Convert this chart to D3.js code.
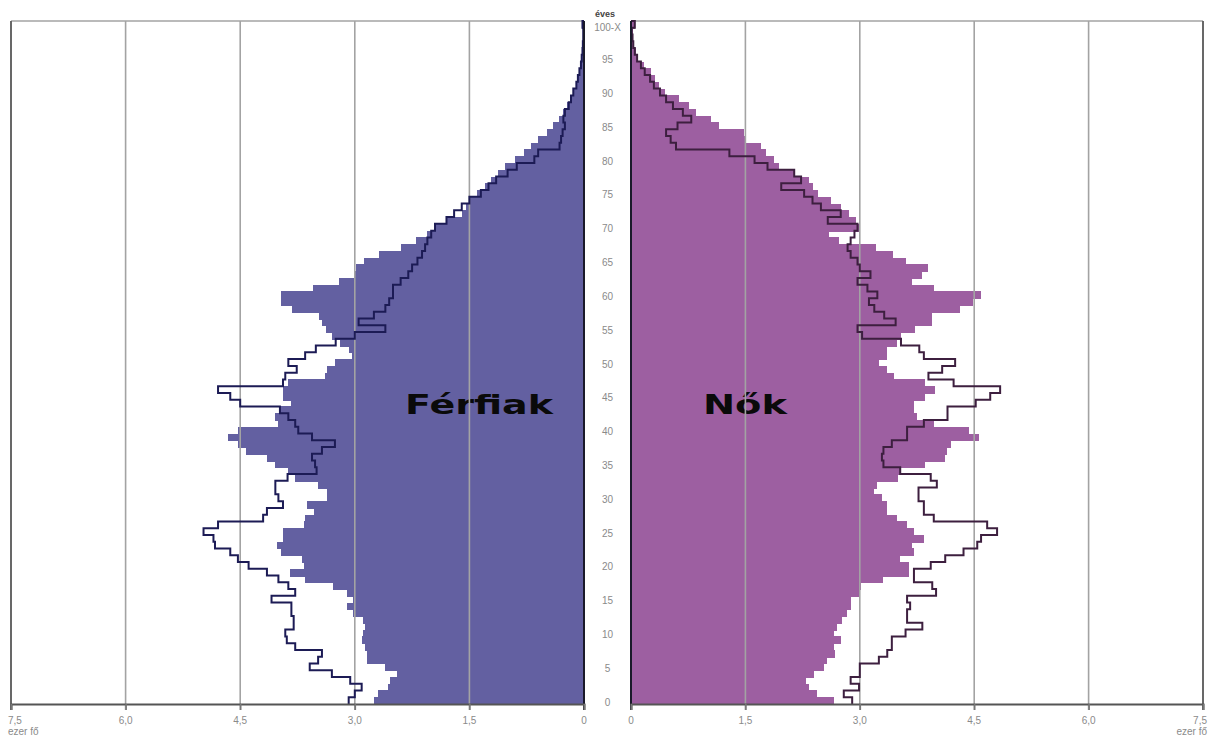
<!DOCTYPE html>
<html>
<head>
<meta charset="utf-8">
<script src="https://cdn.jsdelivr.net/npm/d3@7"></script>
<style>
  html, body { margin: 0; padding: 0; background: #ffffff; }
  svg { display: block; }
</style>
</head>
<body>
<svg id="chart" width="1208" height="738"></svg>
<script>
// ---- data (thousand persons, ages 0..100) ----
const ages = d3.range(0, 101);

const maleBars = [
  2.75,2.69,2.56,2.54,2.45,2.60,2.84,2.84,2.86,2.91,
  2.89,2.86,2.89,3.02,3.10,3.02,3.10,3.28,3.65,3.85,
  3.67,3.69,3.96,4.02,3.94,3.94,3.67,3.65,3.54,3.63,
  3.37,3.37,3.48,3.78,3.87,4.04,4.15,4.42,4.53,4.66,
  4.53,4.00,4.04,3.98,3.83,3.94,3.94,3.87,3.39,3.37,
  3.26,3.04,3.08,3.20,3.30,3.38,3.43,3.47,3.82,3.97,
  3.97,3.55,3.21,3.00,2.99,2.88,2.68,2.40,2.20,2.05,
  1.94,1.79,1.60,1.55,1.50,1.40,1.30,1.22,1.13,1.04,
  0.90,0.78,0.70,0.60,0.48,0.40,0.33,0.27,0.22,0.17,
  0.14,0.11,0.08,0.06,0.05,0.04,0.03,0.02,0.015,0.01,0.03
];
const maleOutline = [
  3.08,3.00,2.91,3.06,3.30,3.59,3.48,3.43,3.78,3.89,
  3.91,3.80,3.80,3.83,3.83,4.09,3.78,3.87,4.00,4.15,
  4.39,4.53,4.63,4.83,4.85,4.98,4.79,4.20,4.15,3.94,
  4.00,4.04,4.04,3.88,3.50,3.52,3.56,3.43,3.26,3.56,
  3.74,3.78,3.87,3.98,4.50,4.63,4.79,3.94,3.91,3.76,
  3.87,3.65,3.51,3.25,3.00,2.60,2.95,2.75,2.60,2.55,
  2.50,2.50,2.40,2.30,2.25,2.18,2.12,2.08,2.05,2.00,
  1.95,1.80,1.70,1.60,1.50,1.35,1.25,1.15,1.00,0.88,
  0.65,0.60,0.32,0.30,0.28,0.25,0.27,0.25,0.20,0.17,
  0.14,0.10,0.08,0.06,0.04,0.03,0.02,0.015,0.01,0.01,0.02
];
const femaleBars = [
  2.66,2.44,2.33,2.29,2.40,2.53,2.57,2.68,2.66,2.75,
  2.66,2.70,2.77,2.83,2.88,2.88,2.99,3.01,3.31,3.64,
  3.64,3.53,3.71,3.69,3.84,3.71,3.62,3.49,3.36,3.36,
  3.29,3.18,3.23,3.50,3.53,3.86,4.12,4.14,4.19,4.56,
  4.43,3.97,3.75,3.71,3.71,3.86,3.99,3.86,3.45,3.36,
  3.25,3.36,3.36,3.49,3.54,3.73,3.95,3.95,4.32,4.48,
  4.59,3.97,3.69,3.82,3.89,3.60,3.43,3.21,2.73,2.60,
  2.99,2.95,2.86,2.75,2.62,2.45,2.38,2.34,2.14,1.94,
  1.88,1.77,1.70,1.50,1.48,1.16,1.05,0.85,0.76,0.63,
  0.44,0.37,0.31,0.26,0.17,0.09,0.06,0.04,0.03,0.02,0.05
];
const femaleOutline = [
  2.90,2.79,2.99,2.88,3.00,3.00,3.25,3.36,3.42,3.42,
  3.60,3.82,3.62,3.62,3.66,3.62,4.00,3.95,3.71,3.71,
  3.93,4.12,4.36,4.54,4.59,4.80,4.67,3.97,3.84,3.84,
  3.77,3.77,4.01,3.93,3.53,3.31,3.29,3.31,3.42,3.62,
  3.62,3.84,4.15,4.15,4.52,4.71,4.84,4.23,3.90,4.08,
  4.25,3.84,3.78,3.54,3.03,2.97,3.47,3.32,3.19,3.12,
  3.23,3.10,2.97,3.14,3.00,2.97,2.88,2.84,2.88,2.93,
  2.97,2.58,2.75,2.49,2.38,2.27,1.97,2.23,2.14,1.79,
  1.62,1.29,0.59,0.52,0.46,0.61,0.79,0.68,0.55,0.46,
  0.38,0.30,0.25,0.18,0.13,0.08,0.05,0.03,0.02,0.01,0.05
];

const xTicks = [0, 1.5, 3.0, 4.5, 6.0, 7.5];
const xTickLabels = ["0", "1,5", "3,0", "4,5", "6,0", "7,5"];
const ageTicks = [0,5,10,15,20,25,30,35,40,45,50,55,60,65,70,75,80,85,90,95,100];
const ageTickLabels = ["0","5","10","15","20","25","30","35","40","45","50","55","60","65","70","75","80","85","90","95","100-X"];
const unitLabel = "ezer fő";
const ageUnit = "éves";
const maleTitle = "Férfiak";
const femaleTitle = "Nők";

// ---- layout ----
const plotTop = 21, plotBottom = 704;
const svg = d3.select("#chart");

const y = d3.scaleBand().domain(ages.slice().reverse()).range([plotTop, plotBottom]).padding(0);
const xM = d3.scaleLinear().domain([0, 7.5]).range([584, 11]);
const xF = d3.scaleLinear().domain([0, 7.5]).range([631, 1203]);

const maleColor = "#6360a1";
const femaleColor = "#9d5fa1";
const maleLine = "#1c1b55";
const femaleLine = "#3d1f3f";
const gridColor = "#a3a3a3";

function drawSide(xs, isMale, bars, outline, fill, lineColor, title, titleX, titleLen) {
  const g = svg.append("g");
  g.selectAll("rect.bar").data(ages).join("rect")
    .attr("class", "bar")
    .attr("x", a => Math.min(xs(0), xs(bars[a])))
    .attr("width", a => Math.abs(xs(bars[a]) - xs(0)))
    .attr("y", a => y(a))
    .attr("height", a => a === 0 ? y.bandwidth() : y.bandwidth() + 1)
    .attr("shape-rendering", "crispEdges")
    .attr("fill", fill);
  g.append("text")
    .attr("x", titleX).attr("y", 414)
    .attr("textLength", titleLen).attr("lengthAdjust", "spacingAndGlyphs")
    .attr("font-family", "'DejaVu Sans', Verdana, sans-serif")
    .attr("font-weight", "bold").attr("font-size", 26)
    .attr("fill", "#0a0a0a").text(title);
  g.selectAll("line.grid").data(xTicks.filter(t => t > 0)).join("line")
    .attr("class", "grid")
    .attr("x1", d => xs(d)).attr("x2", d => xs(d))
    .attr("y1", plotTop).attr("y2", plotBottom + 6)
    .attr("stroke", gridColor).attr("stroke-width", 1.6);
  g.append("line")
    .attr("x1", xs(0)).attr("x2", xs(7.5)).attr("y1", plotTop).attr("y2", plotTop)
    .attr("stroke", gridColor).attr("stroke-width", 1.6);
  g.append("line")
    .attr("x1", xs(7.5)).attr("x2", xs(7.5)).attr("y1", plotTop).attr("y2", plotBottom + 6)
    .attr("stroke", "#555").attr("stroke-width", 1.6);
  const pts = [];
  ages.forEach(a => {
    pts.push([xs(outline[a]), y(a) + y.bandwidth()]);
    pts.push([xs(outline[a]), y(a)]);
  });
  pts.push([xs(0), y(100)]);
  g.append("path")
    .attr("d", d3.line()(pts))
    .attr("fill", "none").attr("stroke", lineColor)
    .attr("stroke-width", 2).attr("stroke-linejoin", "miter");
  g.append("line")
    .attr("x1", xs(0)).attr("x2", xs(0)).attr("y1", plotTop).attr("y2", plotBottom + 6)
    .attr("stroke", "#1a1a2a").attr("stroke-width", 2);
  const axis = d3.axisBottom(xs).tickValues(xTicks).tickSize(6).tickFormat("");
  const ag = g.append("g").attr("transform", `translate(0,${plotBottom})`).call(axis);
  ag.select(".domain").attr("stroke", "#555").attr("stroke-width", 2);
  ag.selectAll(".tick line").attr("stroke", "#777").attr("stroke-width", 1.6);
  g.selectAll("text.tl").data(xTicks).join("text")
    .attr("class", "tl")
    .attr("x", d => (d === 7.5 ? (isMale ? 8 : 1207) : xs(d)))
    .attr("y", 724)
    .attr("text-anchor", d => d === 7.5 ? (isMale ? "start" : "end") : "middle")
    .attr("font-family", "'Liberation Sans', Arial, sans-serif")
    .attr("font-size", 10).attr("fill", "#8a8a8a")
    .text((d, i) => xTickLabels[i]);
  g.append("text")
    .attr("x", isMale ? 8 : 1207).attr("y", 735)
    .attr("text-anchor", isMale ? "start" : "end")
    .attr("font-family", "'Liberation Sans', Arial, sans-serif")
    .attr("font-size", 10).attr("fill", "#8a8a8a")
    .text(unitLabel);
}

drawSide(xM, true, maleBars, maleOutline, maleColor, maleLine, maleTitle, 405, 148);
drawSide(xF, false, femaleBars, femaleOutline, femaleColor, femaleLine, femaleTitle, 703, 84);

svg.selectAll("text.age").data(ageTicks).join("text")
  .attr("class", "age")
  .attr("x", 607.5)
  .attr("y", a => y(a) + y.bandwidth() / 2 + (a === 100 ? 7 : 5))
  .attr("text-anchor", "middle")
  .attr("font-family", "'Liberation Sans', Arial, sans-serif")
  .attr("font-size", 10).attr("fill", "#8a8a8a")
  .text((a, i) => ageTickLabels[i]);
svg.append("text")
  .attr("x", 605).attr("y", 17)
  .attr("text-anchor", "middle")
  .attr("font-family", "'Liberation Sans', Arial, sans-serif")
  .attr("font-size", 9).attr("font-weight", "bold").attr("fill", "#444")
  .text(ageUnit);
</script>
</body>
</html>
